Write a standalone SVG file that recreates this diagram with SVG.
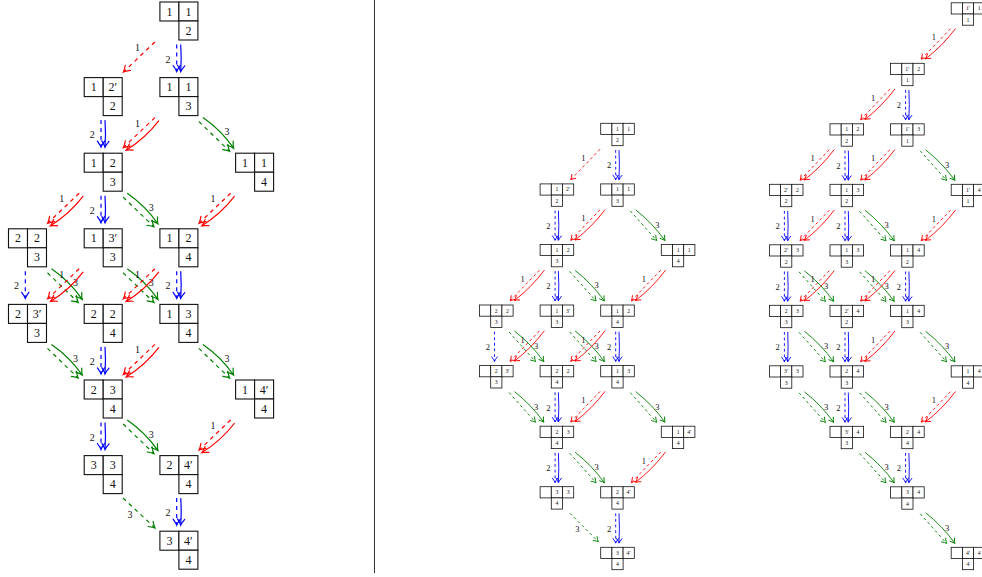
<svg xmlns="http://www.w3.org/2000/svg" width="982" height="577" viewBox="0 0 982 577">
<style>
.n rect{fill:#fff;stroke:#111}
.nL rect{stroke-width:1.1}
.nS rect{stroke-width:0.8}
text{opacity:0.99}
.n text{font-family:"Liberation Serif","DejaVu Serif",serif;text-anchor:middle;fill:#111}
.nL text{font-size:12px}
.nS text{font-size:5.8px}
.e path{fill:none}
.L .e path{stroke-width:1.2}
.S .e path{stroke-width:0.9}
.L .d{stroke-dasharray:4 4}
.S .d{stroke-dasharray:2.8 2.8}
.e text{font-family:"Liberation Serif","DejaVu Serif",serif;text-anchor:middle;fill:#111}
.L .e text{font-size:10px}
.S .e text{font-size:8.5px}
.r path{stroke:#f00}
.b path{stroke:#00f}
.g path{stroke:#008000}
.L .r path{marker-end:url(#mrL)}
.L .b path{marker-end:url(#mbL)}
.L .g path{marker-end:url(#mgL)}
.S .r path{marker-end:url(#mrS)}
.S .b path{marker-end:url(#mbS)}
.S .g path{marker-end:url(#mgS)}
</style>
<defs>
<marker id="mrL" markerUnits="userSpaceOnUse" markerWidth="10" markerHeight="10" refX="0" refY="0" orient="auto" overflow="visible"><path d="M-6,-3.6Q-2,-0.7 0,0Q-2,0.7 -6,3.6" fill="none" stroke="#f00" stroke-width="1.2" stroke-linecap="round"/></marker>
<marker id="mbL" markerUnits="userSpaceOnUse" markerWidth="10" markerHeight="10" refX="0" refY="0" orient="auto" overflow="visible"><path d="M-6,-3.6Q-2,-0.7 0,0Q-2,0.7 -6,3.6" fill="none" stroke="#00f" stroke-width="1.2" stroke-linecap="round"/></marker>
<marker id="mgL" markerUnits="userSpaceOnUse" markerWidth="10" markerHeight="10" refX="0" refY="0" orient="auto" overflow="visible"><path d="M-6,-3.6Q-2,-0.7 0,0Q-2,0.7 -6,3.6" fill="none" stroke="#008000" stroke-width="1.2" stroke-linecap="round"/></marker>
<marker id="mrS" markerUnits="userSpaceOnUse" markerWidth="8" markerHeight="8" refX="0" refY="0" orient="auto" overflow="visible"><path d="M-4.5,-2.7Q-1.5,-0.5 0,0Q-1.5,0.5 -4.5,2.7" fill="none" stroke="#f00" stroke-width="0.9" stroke-linecap="round"/></marker>
<marker id="mbS" markerUnits="userSpaceOnUse" markerWidth="8" markerHeight="8" refX="0" refY="0" orient="auto" overflow="visible"><path d="M-4.5,-2.7Q-1.5,-0.5 0,0Q-1.5,0.5 -4.5,2.7" fill="none" stroke="#00f" stroke-width="0.9" stroke-linecap="round"/></marker>
<marker id="mgS" markerUnits="userSpaceOnUse" markerWidth="8" markerHeight="8" refX="0" refY="0" orient="auto" overflow="visible"><path d="M-4.5,-2.7Q-1.5,-0.5 0,0Q-1.5,0.5 -4.5,2.7" fill="none" stroke="#008000" stroke-width="0.9" stroke-linecap="round"/></marker>
</defs>
<rect width="982" height="577" fill="#fff"/>
<line x1="374.5" y1="0" x2="374.5" y2="573" stroke="#333" stroke-width="1"/>

<g id="connectors">
<g id="conn-left" class="L">
<g class="e r" transform="translate(159.9,40)"><path class="d" d="M-5,2L-36.5,32"/><text x="-22.5" y="11">1</text></g>
<g class="e b" transform="translate(178.9,40)"><path class="d" d="M-2.2,4.5V31.5"/><path d="M1.8,4.5Q2.8,18 1.8,31.5"/><text x="-11" y="22.5">2</text></g>
<g class="e b" transform="translate(103.2,115.6)"><path class="d" d="M-2.2,4.5V31.5"/><path d="M1.8,4.5Q2.8,18 1.8,31.5"/><text x="-11" y="22.5">2</text></g>
<g class="e r" transform="translate(159.9,115.6)"><path class="d" d="M-5,2L-36.5,32"/><path d="M-1,5Q-14.5,22.6 -33.7,34.6"/><text x="-22.5" y="11">1</text></g>
<g class="e g" transform="translate(197.9,115.6)"><path class="d" d="M1,6L31.7,35.6"/><path d="M5,2Q23.2,14.5 35.7,32.6"/><text x="29" y="19.5">3</text></g>
<g class="e r" transform="translate(84.2,191.2)"><path class="d" d="M-5,2L-36.5,32"/><path d="M-1,5Q-14.5,22.6 -33.7,34.6"/><text x="-22.5" y="11">1</text></g>
<g class="e b" transform="translate(103.2,191.2)"><path class="d" d="M-2.2,4.5V31.5"/><path d="M1.8,4.5Q2.8,18 1.8,31.5"/><text x="-11" y="22.5">2</text></g>
<g class="e g" transform="translate(122.2,191.2)"><path class="d" d="M1,6L31.7,35.6"/><path d="M5,2Q23.2,14.5 35.7,32.6"/><text x="29" y="19.5">3</text></g>
<g class="e r" transform="translate(235.6,191.2)"><path class="d" d="M-5,2L-36.5,32"/><path d="M-1,5Q-14.5,22.6 -33.7,34.6"/><text x="-22.5" y="11">1</text></g>
<g class="e b" transform="translate(27.5,266.8)"><path class="d" d="M-2.2,4.5V31.5"/><text x="-11" y="22.5">2</text></g>
<g class="e g" transform="translate(46.5,266.8)"><path class="d" d="M1,6L31.7,35.6"/><path d="M5,2Q23.2,14.5 35.7,32.6"/><text x="29" y="19.5">3</text></g>
<g class="e r" transform="translate(84.2,266.8)"><path class="d" d="M-5,2L-36.5,32"/><path d="M-1,5Q-14.5,22.6 -33.7,34.6"/><text x="-22.5" y="11">1</text></g>
<g class="e g" transform="translate(122.2,266.8)"><path class="d" d="M1,6L31.7,35.6"/><path d="M5,2Q23.2,14.5 35.7,32.6"/><text x="29" y="19.5">3</text></g>
<g class="e r" transform="translate(159.9,266.8)"><path class="d" d="M-5,2L-36.5,32"/><path d="M-1,5Q-14.5,22.6 -33.7,34.6"/><text x="-22.5" y="11">1</text></g>
<g class="e b" transform="translate(178.9,266.8)"><path class="d" d="M-2.2,4.5V31.5"/><path d="M1.8,4.5Q2.8,18 1.8,31.5"/><text x="-11" y="22.5">2</text></g>
<g class="e g" transform="translate(46.5,342.4)"><path class="d" d="M1,6L31.7,35.6"/><path d="M5,2Q23.2,14.5 35.7,32.6"/><text x="29" y="19.5">3</text></g>
<g class="e b" transform="translate(103.2,342.4)"><path class="d" d="M-2.2,4.5V31.5"/><path d="M1.8,4.5Q2.8,18 1.8,31.5"/><text x="-11" y="22.5">2</text></g>
<g class="e r" transform="translate(159.9,342.4)"><path class="d" d="M-5,2L-36.5,32"/><path d="M-1,5Q-14.5,22.6 -33.7,34.6"/><text x="-22.5" y="11">1</text></g>
<g class="e g" transform="translate(197.9,342.4)"><path class="d" d="M1,6L31.7,35.6"/><path d="M5,2Q23.2,14.5 35.7,32.6"/><text x="29" y="19.5">3</text></g>
<g class="e b" transform="translate(103.2,418)"><path class="d" d="M-2.2,4.5V31.5"/><path d="M1.8,4.5Q2.8,18 1.8,31.5"/><text x="-11" y="22.5">2</text></g>
<g class="e g" transform="translate(122.2,418)"><path class="d" d="M1,6L31.7,35.6"/><path d="M5,2Q23.2,14.5 35.7,32.6"/><text x="29" y="19.5">3</text></g>
<g class="e r" transform="translate(235.6,418)"><path class="d" d="M-5,2L-36.5,32"/><path d="M-1,5Q-14.5,22.6 -33.7,34.6"/><text x="-22.5" y="11">1</text></g>
<g class="e g" transform="translate(122.2,493.6)"><path class="d" d="M0.8,4.4L32.8,34.4"/><text x="7.8" y="24.9">3</text></g>
<g class="e b" transform="translate(178.9,493.6)"><path class="d" d="M-2.2,4.5V31.5"/><path d="M1.8,4.5Q2.8,18 1.8,31.5"/><text x="-11" y="22.5">2</text></g>
</g>

<g id="conn-mid" class="S">
<g class="e r" transform="translate(600.7,145.7)"><path class="d" d="M-0.7,3.5L-30,34"/><text x="-17.4" y="15.2">1</text></g>
<g class="e b" transform="translate(617.5,145.7)"><path class="d" d="M-1.8,4.3V34"/><path d="M1.5,4.3Q2.3,19 1.5,34"/><text x="-8.5" y="22.5">2</text></g>
<g class="e b" transform="translate(556.9,206.3)"><path class="d" d="M-1.8,4.3V34"/><path d="M1.5,4.3Q2.3,19 1.5,34"/><text x="-8.5" y="22.5">2</text></g>
<g class="e r" transform="translate(600.7,206.3)"><path class="d" d="M-0.7,3.5L-30,34"/><path d="M4.3,3.3Q-8.6,20.6 -25.7,33.7"/><text x="-17.4" y="15.2">1</text></g>
<g class="e g" transform="translate(634.3,206.3)"><path class="d" d="M-4,4.6L22.4,34.2"/><path d="M1.4,3.6Q18.2,16.8 30.7,34.2"/><text x="23" y="21.6">3</text></g>
<g class="e r" transform="translate(540.1,266.8)"><path class="d" d="M-0.7,3.5L-30,34"/><path d="M4.3,3.3Q-8.6,20.6 -25.7,33.7"/><text x="-17.4" y="15.2">1</text></g>
<g class="e b" transform="translate(556.9,266.8)"><path class="d" d="M-1.8,4.3V34"/><path d="M1.5,4.3Q2.3,19 1.5,34"/><text x="-8.5" y="22.5">2</text></g>
<g class="e g" transform="translate(573.7,266.8)"><path class="d" d="M-4,4.6L22.4,34.2"/><path d="M1.4,3.6Q18.2,16.8 30.7,34.2"/><text x="23" y="21.6">3</text></g>
<g class="e r" transform="translate(661.3,266.8)"><path class="d" d="M-0.7,3.5L-30,34"/><path d="M4.3,3.3Q-8.6,20.6 -25.7,33.7"/><text x="-17.4" y="15.2">1</text></g>
<g class="e b" transform="translate(496.3,327.4)"><path class="d" d="M-1.8,4.3V34"/><text x="-8.5" y="22.5">2</text></g>
<g class="e g" transform="translate(513.1,327.4)"><path class="d" d="M-4,4.6L22.4,34.2"/><path d="M1.4,3.6Q18.2,16.8 30.7,34.2"/><text x="23" y="21.6">3</text></g>
<g class="e r" transform="translate(540.1,327.4)"><path class="d" d="M-0.7,3.5L-30,34"/><path d="M4.3,3.3Q-8.6,20.6 -25.7,33.7"/><text x="-17.4" y="15.2">1</text></g>
<g class="e g" transform="translate(573.7,327.4)"><path class="d" d="M-4,4.6L22.4,34.2"/><path d="M1.4,3.6Q18.2,16.8 30.7,34.2"/><text x="23" y="21.6">3</text></g>
<g class="e r" transform="translate(600.7,327.4)"><path class="d" d="M-0.7,3.5L-30,34"/><path d="M4.3,3.3Q-8.6,20.6 -25.7,33.7"/><text x="-17.4" y="15.2">1</text></g>
<g class="e b" transform="translate(617.5,327.4)"><path class="d" d="M-1.8,4.3V34"/><path d="M1.5,4.3Q2.3,19 1.5,34"/><text x="-8.5" y="22.5">2</text></g>
<g class="e g" transform="translate(513.1,388)"><path class="d" d="M-4,4.6L22.4,34.2"/><path d="M1.4,3.6Q18.2,16.8 30.7,34.2"/><text x="23" y="21.6">3</text></g>
<g class="e b" transform="translate(556.9,388)"><path class="d" d="M-1.8,4.3V34"/><path d="M1.5,4.3Q2.3,19 1.5,34"/><text x="-8.5" y="22.5">2</text></g>
<g class="e r" transform="translate(600.7,388)"><path class="d" d="M-0.7,3.5L-30,34"/><path d="M4.3,3.3Q-8.6,20.6 -25.7,33.7"/><text x="-17.4" y="15.2">1</text></g>
<g class="e g" transform="translate(634.3,388)"><path class="d" d="M-4,4.6L22.4,34.2"/><path d="M1.4,3.6Q18.2,16.8 30.7,34.2"/><text x="23" y="21.6">3</text></g>
<g class="e b" transform="translate(556.9,448.6)"><path class="d" d="M-1.8,4.3V34"/><path d="M1.5,4.3Q2.3,19 1.5,34"/><text x="-8.5" y="22.5">2</text></g>
<g class="e g" transform="translate(573.7,448.6)"><path class="d" d="M-4,4.6L22.4,34.2"/><path d="M1.4,3.6Q18.2,16.8 30.7,34.2"/><text x="23" y="21.6">3</text></g>
<g class="e r" transform="translate(661.3,448.6)"><path class="d" d="M-0.7,3.5L-30,34"/><path d="M4.3,3.3Q-8.6,20.6 -25.7,33.7"/><text x="-17.4" y="15.2">1</text></g>
<g class="e g" transform="translate(573.7,509.1)"><path class="d" d="M-3.7,4.2L24.6,32.6"/><text x="3.6" y="22.9">3</text></g>
<g class="e b" transform="translate(617.5,509.1)"><path class="d" d="M-1.8,4.3V34"/><path d="M1.5,4.3Q2.3,19 1.5,34"/><text x="-8.5" y="22.5">2</text></g>
</g>

<g id="conn-right" class="S">
<g class="e r" transform="translate(951.2,25.2)"><path class="d" d="M-0.7,3.5L-30,34"/><path d="M4.3,3.3Q-8.6,20.6 -25.7,33.7"/><text x="-17.4" y="15.2">1</text></g>
<g class="e r" transform="translate(890.6,85.7)"><path class="d" d="M-0.7,3.5L-30,34"/><path d="M4.3,3.3Q-8.6,20.6 -25.7,33.7"/><text x="-17.4" y="15.2">1</text></g>
<g class="e b" transform="translate(907.4,85.7)"><path class="d" d="M-1.8,4.3V34"/><path d="M1.5,4.3Q2.3,19 1.5,34"/><text x="-8.5" y="22.5">2</text></g>
<g class="e r" transform="translate(830,146.2)"><path class="d" d="M-0.7,3.5L-30,34"/><path d="M4.3,3.3Q-8.6,20.6 -25.7,33.7"/><text x="-17.4" y="15.2">1</text></g>
<g class="e b" transform="translate(846.8,146.2)"><path class="d" d="M-1.8,4.3V34"/><path d="M1.5,4.3Q2.3,19 1.5,34"/><text x="-8.5" y="22.5">2</text></g>
<g class="e r" transform="translate(890.6,146.2)"><path class="d" d="M-0.7,3.5L-30,34"/><path d="M4.3,3.3Q-8.6,20.6 -25.7,33.7"/><text x="-17.4" y="15.2">1</text></g>
<g class="e g" transform="translate(924.2,146.2)"><path class="d" d="M-4,4.6L22.4,34.2"/><path d="M1.4,3.6Q18.2,16.8 30.7,34.2"/><text x="23" y="21.6">3</text></g>
<g class="e b" transform="translate(786.2,206.7)"><path class="d" d="M-1.8,4.3V34"/><path d="M1.5,4.3Q2.3,19 1.5,34"/><text x="-8.5" y="22.5">2</text></g>
<g class="e r" transform="translate(830,206.7)"><path class="d" d="M-0.7,3.5L-30,34"/><path d="M4.3,3.3Q-8.6,20.6 -25.7,33.7"/><text x="-17.4" y="15.2">1</text></g>
<g class="e b" transform="translate(846.8,206.7)"><path class="d" d="M-1.8,4.3V34"/><path d="M1.5,4.3Q2.3,19 1.5,34"/><text x="-8.5" y="22.5">2</text></g>
<g class="e g" transform="translate(863.6,206.7)"><path class="d" d="M-4,4.6L22.4,34.2"/><path d="M1.4,3.6Q18.2,16.8 30.7,34.2"/><text x="23" y="21.6">3</text></g>
<g class="e r" transform="translate(951.2,206.7)"><path class="d" d="M-0.7,3.5L-30,34"/><path d="M4.3,3.3Q-8.6,20.6 -25.7,33.7"/><text x="-17.4" y="15.2">1</text></g>
<g class="e b" transform="translate(786.2,267.2)"><path class="d" d="M-1.8,4.3V34"/><path d="M1.5,4.3Q2.3,19 1.5,34"/><text x="-8.5" y="22.5">2</text></g>
<g class="e g" transform="translate(803,267.2)"><path class="d" d="M-4,4.6L22.4,34.2"/><path d="M1.4,3.6Q18.2,16.8 30.7,34.2"/><text x="23" y="21.6">3</text></g>
<g class="e r" transform="translate(830,267.2)"><path class="d" d="M-0.7,3.5L-30,34"/><path d="M4.3,3.3Q-8.6,20.6 -25.7,33.7"/><text x="-17.4" y="15.2">1</text></g>
<g class="e g" transform="translate(863.6,267.2)"><path class="d" d="M-4,4.6L22.4,34.2"/><path d="M1.4,3.6Q18.2,16.8 30.7,34.2"/><text x="23" y="21.6">3</text></g>
<g class="e r" transform="translate(890.6,267.2)"><path class="d" d="M-0.7,3.5L-30,34"/><path d="M4.3,3.3Q-8.6,20.6 -25.7,33.7"/><text x="-17.4" y="15.2">1</text></g>
<g class="e b" transform="translate(907.4,267.2)"><path class="d" d="M-1.8,4.3V34"/><path d="M1.5,4.3Q2.3,19 1.5,34"/><text x="-8.5" y="22.5">2</text></g>
<g class="e b" transform="translate(786.2,327.7)"><path class="d" d="M-1.8,4.3V34"/><path d="M1.5,4.3Q2.3,19 1.5,34"/><text x="-8.5" y="22.5">2</text></g>
<g class="e g" transform="translate(803,327.7)"><path class="d" d="M-4,4.6L22.4,34.2"/><path d="M1.4,3.6Q18.2,16.8 30.7,34.2"/><text x="23" y="21.6">3</text></g>
<g class="e b" transform="translate(846.8,327.7)"><path class="d" d="M-1.8,4.3V34"/><path d="M1.5,4.3Q2.3,19 1.5,34"/><text x="-8.5" y="22.5">2</text></g>
<g class="e r" transform="translate(890.6,327.7)"><path class="d" d="M-0.7,3.5L-30,34"/><path d="M4.3,3.3Q-8.6,20.6 -25.7,33.7"/><text x="-17.4" y="15.2">1</text></g>
<g class="e g" transform="translate(924.2,327.7)"><path class="d" d="M-4,4.6L22.4,34.2"/><path d="M1.4,3.6Q18.2,16.8 30.7,34.2"/><text x="23" y="21.6">3</text></g>
<g class="e g" transform="translate(803,388.2)"><path class="d" d="M-4,4.6L22.4,34.2"/><path d="M1.4,3.6Q18.2,16.8 30.7,34.2"/><text x="23" y="21.6">3</text></g>
<g class="e b" transform="translate(846.8,388.2)"><path class="d" d="M-1.8,4.3V34"/><path d="M1.5,4.3Q2.3,19 1.5,34"/><text x="-8.5" y="22.5">2</text></g>
<g class="e g" transform="translate(863.6,388.2)"><path class="d" d="M-4,4.6L22.4,34.2"/><path d="M1.4,3.6Q18.2,16.8 30.7,34.2"/><text x="23" y="21.6">3</text></g>
<g class="e r" transform="translate(951.2,388.2)"><path class="d" d="M-0.7,3.5L-30,34"/><path d="M4.3,3.3Q-8.6,20.6 -25.7,33.7"/><text x="-17.4" y="15.2">1</text></g>
<g class="e g" transform="translate(863.6,448.7)"><path class="d" d="M-4,4.6L22.4,34.2"/><path d="M1.4,3.6Q18.2,16.8 30.7,34.2"/><text x="23" y="21.6">3</text></g>
<g class="e b" transform="translate(907.4,448.7)"><path class="d" d="M-1.8,4.3V34"/><path d="M1.5,4.3Q2.3,19 1.5,34"/><text x="-8.5" y="22.5">2</text></g>
<g class="e g" transform="translate(924.2,509.2)"><path class="d" d="M-4,4.6L22.4,34.2"/><path d="M1.4,3.6Q18.2,16.8 30.7,34.2"/><text x="23" y="21.6">3</text></g>
</g>
</g>

<g id="nodes-left">
<g id="L20" class="n nL" transform="translate(159.9,2)"><rect width="19" height="19"/><rect x="19" width="19" height="19"/><rect x="19" y="19" width="19" height="19"/><text x="9.5" y="13.6">1</text><text x="28.5" y="13.6">1</text><text x="28.5" y="32.6">2</text></g>
<g id="L11" class="n nL" transform="translate(84.2,77.6)"><rect width="19" height="19"/><rect x="19" width="19" height="19"/><rect x="19" y="19" width="19" height="19"/><text x="9.5" y="13.6">1</text><text x="28.5" y="13.6">2′</text><text x="28.5" y="32.6">2</text></g>
<g id="L21" class="n nL" transform="translate(159.9,77.6)"><rect width="19" height="19"/><rect x="19" width="19" height="19"/><rect x="19" y="19" width="19" height="19"/><text x="9.5" y="13.6">1</text><text x="28.5" y="13.6">1</text><text x="28.5" y="32.6">3</text></g>
<g id="L12" class="n nL" transform="translate(84.2,153.2)"><rect width="19" height="19"/><rect x="19" width="19" height="19"/><rect x="19" y="19" width="19" height="19"/><text x="9.5" y="13.6">1</text><text x="28.5" y="13.6">2</text><text x="28.5" y="32.6">3</text></g>
<g id="L32" class="n nL" transform="translate(235.6,153.2)"><rect width="19" height="19"/><rect x="19" width="19" height="19"/><rect x="19" y="19" width="19" height="19"/><text x="9.5" y="13.6">1</text><text x="28.5" y="13.6">1</text><text x="28.5" y="32.6">4</text></g>
<g id="L03" class="n nL" transform="translate(8.5,228.8)"><rect width="19" height="19"/><rect x="19" width="19" height="19"/><rect x="19" y="19" width="19" height="19"/><text x="9.5" y="13.6">2</text><text x="28.5" y="13.6">2</text><text x="28.5" y="32.6">3</text></g>
<g id="L13" class="n nL" transform="translate(84.2,228.8)"><rect width="19" height="19"/><rect x="19" width="19" height="19"/><rect x="19" y="19" width="19" height="19"/><text x="9.5" y="13.6">1</text><text x="28.5" y="13.6">3′</text><text x="28.5" y="32.6">3</text></g>
<g id="L23" class="n nL" transform="translate(159.9,228.8)"><rect width="19" height="19"/><rect x="19" width="19" height="19"/><rect x="19" y="19" width="19" height="19"/><text x="9.5" y="13.6">1</text><text x="28.5" y="13.6">2</text><text x="28.5" y="32.6">4</text></g>
<g id="L04" class="n nL" transform="translate(8.5,304.4)"><rect width="19" height="19"/><rect x="19" width="19" height="19"/><rect x="19" y="19" width="19" height="19"/><text x="9.5" y="13.6">2</text><text x="28.5" y="13.6">3′</text><text x="28.5" y="32.6">3</text></g>
<g id="L14" class="n nL" transform="translate(84.2,304.4)"><rect width="19" height="19"/><rect x="19" width="19" height="19"/><rect x="19" y="19" width="19" height="19"/><text x="9.5" y="13.6">2</text><text x="28.5" y="13.6">2</text><text x="28.5" y="32.6">4</text></g>
<g id="L24" class="n nL" transform="translate(159.9,304.4)"><rect width="19" height="19"/><rect x="19" width="19" height="19"/><rect x="19" y="19" width="19" height="19"/><text x="9.5" y="13.6">1</text><text x="28.5" y="13.6">3</text><text x="28.5" y="32.6">4</text></g>
<g id="L15" class="n nL" transform="translate(84.2,380)"><rect width="19" height="19"/><rect x="19" width="19" height="19"/><rect x="19" y="19" width="19" height="19"/><text x="9.5" y="13.6">2</text><text x="28.5" y="13.6">3</text><text x="28.5" y="32.6">4</text></g>
<g id="L35" class="n nL" transform="translate(235.6,380)"><rect width="19" height="19"/><rect x="19" width="19" height="19"/><rect x="19" y="19" width="19" height="19"/><text x="9.5" y="13.6">1</text><text x="28.5" y="13.6">4′</text><text x="28.5" y="32.6">4</text></g>
<g id="L16" class="n nL" transform="translate(84.2,455.6)"><rect width="19" height="19"/><rect x="19" width="19" height="19"/><rect x="19" y="19" width="19" height="19"/><text x="9.5" y="13.6">3</text><text x="28.5" y="13.6">3</text><text x="28.5" y="32.6">4</text></g>
<g id="L26" class="n nL" transform="translate(159.9,455.6)"><rect width="19" height="19"/><rect x="19" width="19" height="19"/><rect x="19" y="19" width="19" height="19"/><text x="9.5" y="13.6">2</text><text x="28.5" y="13.6">4′</text><text x="28.5" y="32.6">4</text></g>
<g id="L27" class="n nL" transform="translate(159.9,531.2)"><rect width="19" height="19"/><rect x="19" width="19" height="19"/><rect x="19" y="19" width="19" height="19"/><text x="9.5" y="13.6">3</text><text x="28.5" y="13.6">4′</text><text x="28.5" y="32.6">4</text></g>
</g>

<g id="nodes-mid">
<g id="M20" class="n nS" transform="translate(600.7,123.3)"><rect width="11.2" height="11.2"/><rect x="11.2" width="11.2" height="11.2"/><rect x="22.4" width="11.2" height="11.2"/><rect x="11.2" y="11.2" width="11.2" height="11.2"/><text x="16.8" y="7.6">1</text><text x="28" y="7.6">1</text><text x="16.8" y="18.8">2</text></g>
<g id="M11" class="n nS" transform="translate(540.1,183.9)"><rect width="11.2" height="11.2"/><rect x="11.2" width="11.2" height="11.2"/><rect x="22.4" width="11.2" height="11.2"/><rect x="11.2" y="11.2" width="11.2" height="11.2"/><text x="16.8" y="7.6">1</text><text x="28" y="7.6">2′</text><text x="16.8" y="18.8">2</text></g>
<g id="M21" class="n nS" transform="translate(600.7,183.9)"><rect width="11.2" height="11.2"/><rect x="11.2" width="11.2" height="11.2"/><rect x="22.4" width="11.2" height="11.2"/><rect x="11.2" y="11.2" width="11.2" height="11.2"/><text x="16.8" y="7.6">1</text><text x="28" y="7.6">1</text><text x="16.8" y="18.8">3</text></g>
<g id="M12" class="n nS" transform="translate(540.1,244.4)"><rect width="11.2" height="11.2"/><rect x="11.2" width="11.2" height="11.2"/><rect x="22.4" width="11.2" height="11.2"/><rect x="11.2" y="11.2" width="11.2" height="11.2"/><text x="16.8" y="7.6">1</text><text x="28" y="7.6">2</text><text x="16.8" y="18.8">3</text></g>
<g id="M32" class="n nS" transform="translate(661.3,244.4)"><rect width="11.2" height="11.2"/><rect x="11.2" width="11.2" height="11.2"/><rect x="22.4" width="11.2" height="11.2"/><rect x="11.2" y="11.2" width="11.2" height="11.2"/><text x="16.8" y="7.6">1</text><text x="28" y="7.6">1</text><text x="16.8" y="18.8">4</text></g>
<g id="M03" class="n nS" transform="translate(479.5,305)"><rect width="11.2" height="11.2"/><rect x="11.2" width="11.2" height="11.2"/><rect x="22.4" width="11.2" height="11.2"/><rect x="11.2" y="11.2" width="11.2" height="11.2"/><text x="16.8" y="7.6">2</text><text x="28" y="7.6">2</text><text x="16.8" y="18.8">3</text></g>
<g id="M13" class="n nS" transform="translate(540.1,305)"><rect width="11.2" height="11.2"/><rect x="11.2" width="11.2" height="11.2"/><rect x="22.4" width="11.2" height="11.2"/><rect x="11.2" y="11.2" width="11.2" height="11.2"/><text x="16.8" y="7.6">1</text><text x="28" y="7.6">3′</text><text x="16.8" y="18.8">3</text></g>
<g id="M23" class="n nS" transform="translate(600.7,305)"><rect width="11.2" height="11.2"/><rect x="11.2" width="11.2" height="11.2"/><rect x="22.4" width="11.2" height="11.2"/><rect x="11.2" y="11.2" width="11.2" height="11.2"/><text x="16.8" y="7.6">1</text><text x="28" y="7.6">2</text><text x="16.8" y="18.8">4</text></g>
<g id="M04" class="n nS" transform="translate(479.5,365.6)"><rect width="11.2" height="11.2"/><rect x="11.2" width="11.2" height="11.2"/><rect x="22.4" width="11.2" height="11.2"/><rect x="11.2" y="11.2" width="11.2" height="11.2"/><text x="16.8" y="7.6">2</text><text x="28" y="7.6">3′</text><text x="16.8" y="18.8">3</text></g>
<g id="M14" class="n nS" transform="translate(540.1,365.6)"><rect width="11.2" height="11.2"/><rect x="11.2" width="11.2" height="11.2"/><rect x="22.4" width="11.2" height="11.2"/><rect x="11.2" y="11.2" width="11.2" height="11.2"/><text x="16.8" y="7.6">2</text><text x="28" y="7.6">2</text><text x="16.8" y="18.8">4</text></g>
<g id="M24" class="n nS" transform="translate(600.7,365.6)"><rect width="11.2" height="11.2"/><rect x="11.2" width="11.2" height="11.2"/><rect x="22.4" width="11.2" height="11.2"/><rect x="11.2" y="11.2" width="11.2" height="11.2"/><text x="16.8" y="7.6">1</text><text x="28" y="7.6">3</text><text x="16.8" y="18.8">4</text></g>
<g id="M15" class="n nS" transform="translate(540.1,426.2)"><rect width="11.2" height="11.2"/><rect x="11.2" width="11.2" height="11.2"/><rect x="22.4" width="11.2" height="11.2"/><rect x="11.2" y="11.2" width="11.2" height="11.2"/><text x="16.8" y="7.6">2</text><text x="28" y="7.6">3</text><text x="16.8" y="18.8">4</text></g>
<g id="M35" class="n nS" transform="translate(661.3,426.2)"><rect width="11.2" height="11.2"/><rect x="11.2" width="11.2" height="11.2"/><rect x="22.4" width="11.2" height="11.2"/><rect x="11.2" y="11.2" width="11.2" height="11.2"/><text x="16.8" y="7.6">1</text><text x="28" y="7.6">4′</text><text x="16.8" y="18.8">4</text></g>
<g id="M16" class="n nS" transform="translate(540.1,486.7)"><rect width="11.2" height="11.2"/><rect x="11.2" width="11.2" height="11.2"/><rect x="22.4" width="11.2" height="11.2"/><rect x="11.2" y="11.2" width="11.2" height="11.2"/><text x="16.8" y="7.6">3</text><text x="28" y="7.6">3</text><text x="16.8" y="18.8">4</text></g>
<g id="M26" class="n nS" transform="translate(600.7,486.7)"><rect width="11.2" height="11.2"/><rect x="11.2" width="11.2" height="11.2"/><rect x="22.4" width="11.2" height="11.2"/><rect x="11.2" y="11.2" width="11.2" height="11.2"/><text x="16.8" y="7.6">2</text><text x="28" y="7.6">4′</text><text x="16.8" y="18.8">4</text></g>
<g id="M27" class="n nS" transform="translate(600.7,547.3)"><rect width="11.2" height="11.2"/><rect x="11.2" width="11.2" height="11.2"/><rect x="22.4" width="11.2" height="11.2"/><rect x="11.2" y="11.2" width="11.2" height="11.2"/><text x="16.8" y="7.6">3</text><text x="28" y="7.6">4′</text><text x="16.8" y="18.8">4</text></g>
</g>

<g id="nodes-right">
<g id="R30" class="n nS" transform="translate(951.2,2.8)"><rect width="11.2" height="11.2"/><rect x="11.2" width="11.2" height="11.2"/><rect x="22.4" width="11.2" height="11.2"/><rect x="11.2" y="11.2" width="11.2" height="11.2"/><text x="16.8" y="7.6">1′</text><text x="28" y="7.6">1</text><text x="16.8" y="18.8">1</text></g>
<g id="R21" class="n nS" transform="translate(890.6,63.3)"><rect width="11.2" height="11.2"/><rect x="11.2" width="11.2" height="11.2"/><rect x="22.4" width="11.2" height="11.2"/><rect x="11.2" y="11.2" width="11.2" height="11.2"/><text x="16.8" y="7.6">1′</text><text x="28" y="7.6">2</text><text x="16.8" y="18.8">1</text></g>
<g id="R12" class="n nS" transform="translate(830,123.8)"><rect width="11.2" height="11.2"/><rect x="11.2" width="11.2" height="11.2"/><rect x="22.4" width="11.2" height="11.2"/><rect x="11.2" y="11.2" width="11.2" height="11.2"/><text x="16.8" y="7.6">1</text><text x="28" y="7.6">2</text><text x="16.8" y="18.8">2</text></g>
<g id="R22" class="n nS" transform="translate(890.6,123.8)"><rect width="11.2" height="11.2"/><rect x="11.2" width="11.2" height="11.2"/><rect x="22.4" width="11.2" height="11.2"/><rect x="11.2" y="11.2" width="11.2" height="11.2"/><text x="16.8" y="7.6">1′</text><text x="28" y="7.6">3</text><text x="16.8" y="18.8">1</text></g>
<g id="R03" class="n nS" transform="translate(769.4,184.3)"><rect width="11.2" height="11.2"/><rect x="11.2" width="11.2" height="11.2"/><rect x="22.4" width="11.2" height="11.2"/><rect x="11.2" y="11.2" width="11.2" height="11.2"/><text x="16.8" y="7.6">2′</text><text x="28" y="7.6">2</text><text x="16.8" y="18.8">2</text></g>
<g id="R13" class="n nS" transform="translate(830,184.3)"><rect width="11.2" height="11.2"/><rect x="11.2" width="11.2" height="11.2"/><rect x="22.4" width="11.2" height="11.2"/><rect x="11.2" y="11.2" width="11.2" height="11.2"/><text x="16.8" y="7.6">1</text><text x="28" y="7.6">3</text><text x="16.8" y="18.8">2</text></g>
<g id="R33" class="n nS" transform="translate(951.2,184.3)"><rect width="11.2" height="11.2"/><rect x="11.2" width="11.2" height="11.2"/><rect x="22.4" width="11.2" height="11.2"/><rect x="11.2" y="11.2" width="11.2" height="11.2"/><text x="16.8" y="7.6">1′</text><text x="28" y="7.6">4</text><text x="16.8" y="18.8">1</text></g>
<g id="R04" class="n nS" transform="translate(769.4,244.8)"><rect width="11.2" height="11.2"/><rect x="11.2" width="11.2" height="11.2"/><rect x="22.4" width="11.2" height="11.2"/><rect x="11.2" y="11.2" width="11.2" height="11.2"/><text x="16.8" y="7.6">2′</text><text x="28" y="7.6">3</text><text x="16.8" y="18.8">2</text></g>
<g id="R14" class="n nS" transform="translate(830,244.8)"><rect width="11.2" height="11.2"/><rect x="11.2" width="11.2" height="11.2"/><rect x="22.4" width="11.2" height="11.2"/><rect x="11.2" y="11.2" width="11.2" height="11.2"/><text x="16.8" y="7.6">1</text><text x="28" y="7.6">3</text><text x="16.8" y="18.8">3</text></g>
<g id="R24" class="n nS" transform="translate(890.6,244.8)"><rect width="11.2" height="11.2"/><rect x="11.2" width="11.2" height="11.2"/><rect x="22.4" width="11.2" height="11.2"/><rect x="11.2" y="11.2" width="11.2" height="11.2"/><text x="16.8" y="7.6">1</text><text x="28" y="7.6">4</text><text x="16.8" y="18.8">2</text></g>
<g id="R05" class="n nS" transform="translate(769.4,305.3)"><rect width="11.2" height="11.2"/><rect x="11.2" width="11.2" height="11.2"/><rect x="22.4" width="11.2" height="11.2"/><rect x="11.2" y="11.2" width="11.2" height="11.2"/><text x="16.8" y="7.6">2</text><text x="28" y="7.6">3</text><text x="16.8" y="18.8">3</text></g>
<g id="R15" class="n nS" transform="translate(830,305.3)"><rect width="11.2" height="11.2"/><rect x="11.2" width="11.2" height="11.2"/><rect x="22.4" width="11.2" height="11.2"/><rect x="11.2" y="11.2" width="11.2" height="11.2"/><text x="16.8" y="7.6">2′</text><text x="28" y="7.6">4</text><text x="16.8" y="18.8">2</text></g>
<g id="R25" class="n nS" transform="translate(890.6,305.3)"><rect width="11.2" height="11.2"/><rect x="11.2" width="11.2" height="11.2"/><rect x="22.4" width="11.2" height="11.2"/><rect x="11.2" y="11.2" width="11.2" height="11.2"/><text x="16.8" y="7.6">1</text><text x="28" y="7.6">4</text><text x="16.8" y="18.8">3</text></g>
<g id="R06" class="n nS" transform="translate(769.4,365.8)"><rect width="11.2" height="11.2"/><rect x="11.2" width="11.2" height="11.2"/><rect x="22.4" width="11.2" height="11.2"/><rect x="11.2" y="11.2" width="11.2" height="11.2"/><text x="16.8" y="7.6">3′</text><text x="28" y="7.6">3</text><text x="16.8" y="18.8">3</text></g>
<g id="R16" class="n nS" transform="translate(830,365.8)"><rect width="11.2" height="11.2"/><rect x="11.2" width="11.2" height="11.2"/><rect x="22.4" width="11.2" height="11.2"/><rect x="11.2" y="11.2" width="11.2" height="11.2"/><text x="16.8" y="7.6">2</text><text x="28" y="7.6">4</text><text x="16.8" y="18.8">3</text></g>
<g id="R36" class="n nS" transform="translate(951.2,365.8)"><rect width="11.2" height="11.2"/><rect x="11.2" width="11.2" height="11.2"/><rect x="22.4" width="11.2" height="11.2"/><rect x="11.2" y="11.2" width="11.2" height="11.2"/><text x="16.8" y="7.6">1</text><text x="28" y="7.6">4</text><text x="16.8" y="18.8">4</text></g>
<g id="R17" class="n nS" transform="translate(830,426.3)"><rect width="11.2" height="11.2"/><rect x="11.2" width="11.2" height="11.2"/><rect x="22.4" width="11.2" height="11.2"/><rect x="11.2" y="11.2" width="11.2" height="11.2"/><text x="16.8" y="7.6">3′</text><text x="28" y="7.6">4</text><text x="16.8" y="18.8">3</text></g>
<g id="R27" class="n nS" transform="translate(890.6,426.3)"><rect width="11.2" height="11.2"/><rect x="11.2" width="11.2" height="11.2"/><rect x="22.4" width="11.2" height="11.2"/><rect x="11.2" y="11.2" width="11.2" height="11.2"/><text x="16.8" y="7.6">2</text><text x="28" y="7.6">4</text><text x="16.8" y="18.8">4</text></g>
<g id="R28" class="n nS" transform="translate(890.6,486.8)"><rect width="11.2" height="11.2"/><rect x="11.2" width="11.2" height="11.2"/><rect x="22.4" width="11.2" height="11.2"/><rect x="11.2" y="11.2" width="11.2" height="11.2"/><text x="16.8" y="7.6">3</text><text x="28" y="7.6">4</text><text x="16.8" y="18.8">4</text></g>
<g id="R39" class="n nS" transform="translate(951.2,547.3)"><rect width="11.2" height="11.2"/><rect x="11.2" width="11.2" height="11.2"/><rect x="22.4" width="11.2" height="11.2"/><rect x="11.2" y="11.2" width="11.2" height="11.2"/><text x="16.8" y="7.6">4′</text><text x="28" y="7.6">4</text><text x="16.8" y="18.8">4</text></g>
</g>
</svg>
